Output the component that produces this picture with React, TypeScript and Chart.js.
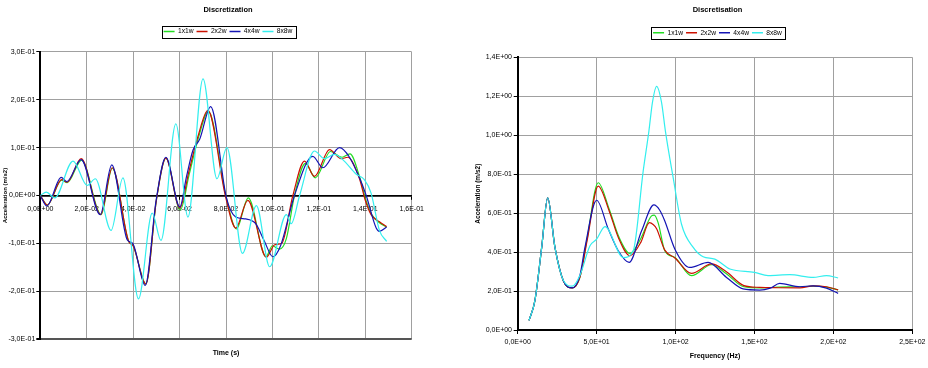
import React, { useEffect, useRef } from 'react';
import { Chart, registerables } from 'chart.js';

Chart.register(...registerables);

const FONT = '"Liberation Sans", Arial, sans-serif';

const seriesNames = ['1x1w', '2x2w', '4x4w', '8x8w'];
const seriesColors = ['#22dd22', '#cc1100', '#1414b4', '#33eeee'];

// ---- Time history (Discretization) ----
const timeTitle = 'Discretization';
const timeXLabel = 'Time (s)';
const timeYLabel = 'Acceleration (m/s2)';

const t1x1w = [0, 0.003, 0.0092, 0.0116, 0.0178, 0.0262, 0.031, 0.038, 0.04, 0.0455, 0.05, 0.0541, 0.0603, 0.0642, 0.0682, 0.0724, 0.0799, 0.0845, 0.0896, 0.0972, 0.1, 0.103, 0.106, 0.1095, 0.1142, 0.1185, 0.125, 0.13, 0.1334, 0.1378, 0.1403, 0.1428, 0.1461, 0.1492];
const a1x1w = [0, -0.02, 0.032, 0.027, 0.074, -0.04, 0.057, -0.095, -0.105, -0.185, -0.01, 0.078, -0.03, 0.045, 0.122, 0.176, 0.0, -0.07, -0.005, -0.128, -0.105, -0.112, -0.09, 0.0, 0.067, 0.037, 0.092, 0.08, 0.087, 0.035, -0.01, -0.04, -0.057, -0.066];

const t2x2w = [0, 0.003, 0.0092, 0.0116, 0.0176, 0.026, 0.031, 0.038, 0.04, 0.0455, 0.05, 0.0541, 0.0601, 0.064, 0.068, 0.0722, 0.0797, 0.0842, 0.0894, 0.0974, 0.101, 0.104, 0.1088, 0.1138, 0.1181, 0.1246, 0.1296, 0.1324, 0.1375, 0.14, 0.1425, 0.1461, 0.1492];
const a2x2w = [0, -0.02, 0.033, 0.028, 0.077, -0.04, 0.058, -0.095, -0.105, -0.185, -0.01, 0.078, -0.026, 0.05, 0.125, 0.178, 0.0, -0.068, -0.01, -0.129, -0.103, -0.1, 0.0, 0.072, 0.04, 0.096, 0.077, 0.08, 0.035, -0.01, -0.04, -0.055, -0.065];

const t4x4w = [0, 0.0028, 0.009, 0.0114, 0.0176, 0.0258, 0.0308, 0.0375, 0.0398, 0.0452, 0.0499, 0.0541, 0.0601, 0.063, 0.0658, 0.0687, 0.0734, 0.0802, 0.0842, 0.0885, 0.0928, 0.0964, 0.1002, 0.1035, 0.1095, 0.1174, 0.1217, 0.1289, 0.1332, 0.1375, 0.1404, 0.1447, 0.1461, 0.1492];
const a4x4w = [0, -0.022, 0.038, 0.029, 0.075, -0.04, 0.064, -0.093, -0.1, -0.188, -0.01, 0.08, -0.024, 0.04, 0.095, 0.118, 0.186, -0.005, -0.045, -0.049, -0.059, -0.094, -0.128, -0.105, 0.0, 0.082, 0.058, 0.1, 0.08, 0.037, 0.0, -0.068, -0.075, -0.066];

const t8x8w = [0, 0.0026, 0.0062, 0.0141, 0.0202, 0.0237, 0.0305, 0.0356, 0.0423, 0.0482, 0.052, 0.0584, 0.0636, 0.0701, 0.0761, 0.0804, 0.0871, 0.0931, 0.0988, 0.106, 0.1081, 0.1117, 0.1181, 0.1224, 0.1267, 0.1303, 0.136, 0.1396, 0.1425, 0.1461, 0.1492];
const a8x8w = [0, 0.007, -0.005, 0.072, 0.021, 0.035, -0.073, 0.037, -0.216, -0.037, -0.094, 0.15, -0.045, 0.244, 0.035, 0.1, -0.121, -0.021, -0.149, -0.04, -0.059, 0.0, 0.093, 0.077, 0.086, 0.075, 0.045, 0.033, 0.005, -0.073, -0.096];

// ---- Spectrum (Discretisation) ----
const freqTitle = 'Discretisation';
const freqXLabel = 'Frequency (Hz)';
const freqYLabel = 'Acceleration (m/s2)';

const f1x1w = [7.2, 10.9, 15.2, 19.0, 23.6, 28.9, 34.6, 39.4, 44, 51, 58, 64, 71.1, 78, 84.8, 86.5, 89, 93.2, 99.6, 110.1, 122.8, 132, 143.3, 153.3, 165, 178.8, 187.2, 195.6, 203];
const s1x1w = [0.049, 0.151, 0.424, 0.679, 0.424, 0.253, 0.216, 0.27, 0.47, 0.756, 0.62, 0.48, 0.393, 0.47, 0.586, 0.59, 0.55, 0.407, 0.372, 0.279, 0.335, 0.29, 0.222, 0.216, 0.22, 0.222, 0.225, 0.22, 0.206];

const f2x2w = [7.2, 10.9, 15.2, 19.0, 23.6, 28.9, 34.6, 39.4, 44, 51, 58, 64, 71.1, 78, 83.4, 86, 88, 93.2, 99.6, 110.1, 122.8, 132, 143.3, 153.3, 165, 178.8, 187.2, 195.6, 203];
const s2x2w = [0.049, 0.151, 0.424, 0.679, 0.424, 0.253, 0.216, 0.27, 0.46, 0.739, 0.61, 0.47, 0.381, 0.45, 0.551, 0.54, 0.52, 0.41, 0.37, 0.291, 0.339, 0.3, 0.228, 0.219, 0.217, 0.216, 0.227, 0.222, 0.206];

const f4x4w = [7.2, 10.9, 15.2, 19.0, 23.6, 28.9, 34.6, 39.4, 42.6, 50, 57.4, 63.7, 70.6, 78.5, 86.3, 90, 93.2, 99.6, 109, 120.6, 132.3, 142.8, 153.3, 160, 166, 178.8, 187.2, 195.6, 203];
const s4x4w = [0.049, 0.151, 0.424, 0.679, 0.424, 0.253, 0.216, 0.28, 0.424, 0.666, 0.518, 0.407, 0.347, 0.509, 0.642, 0.615, 0.56, 0.415, 0.321, 0.347, 0.27, 0.211, 0.205, 0.215, 0.239, 0.222, 0.227, 0.215, 0.188];

const f8x8w = [7.2, 10.9, 15.2, 19.0, 23.6, 28.9, 34.6, 39.4, 45.8, 50, 55.3, 66.9, 73.2, 79.5, 83.1, 85.4, 88, 91.1, 93.6, 98.5, 103.8, 111.2, 117.5, 124.9, 134.4, 150, 158.6, 172.4, 187.2, 195.6, 203];
const s8x8w = [0.049, 0.151, 0.424, 0.679, 0.424, 0.255, 0.225, 0.28, 0.432, 0.466, 0.531, 0.372, 0.407, 0.816, 1.02, 1.17, 1.251, 1.17, 1.02, 0.782, 0.543, 0.424, 0.376, 0.364, 0.313, 0.296, 0.279, 0.284, 0.27, 0.279, 0.267];

function sci(v: number): string {
  if (Math.abs(v) < 1e-12) return '0,0E+00';
  const s = v.toExponential(1);
  const [m, e] = s.split('e');
  const ei = parseInt(e, 10);
  return m.replace('.', ',') + 'E' + (ei < 0 ? '-' : '+') + String(Math.abs(ei)).padStart(2, '0');
}

function pts(xs: number[], ys: number[]) {
  return xs.map((x, i) => ({ x, y: ys[i] }));
}

function makeDatasets(xsList: number[][], ysList: number[][]) {
  return seriesNames.map((name, i) => ({
    label: name,
    data: pts(xsList[i], ysList[i]),
    xAxisID: 'x',
    yAxisID: 'y',
    borderColor: seriesColors[i],
    backgroundColor: seriesColors[i],
    borderWidth: 1.2,
    pointRadius: 0,
    fill: false,
    cubicInterpolationMode: 'monotone' as const,
    order: seriesNames.length - 1 - i,
  }));
}

const legendBoxPlugin = {
  id: 'legendBox',
  beforeDraw(chart: any) {
    const lg = chart.legend;
    if (!lg || !lg.legendHitBoxes || !lg.legendHitBoxes.length) return;
    const hb = lg.legendHitBoxes;
    const left = Math.min(...hb.map((h: any) => h.left)) - 2;
    const right = Math.max(...hb.map((h: any) => h.left + h.width)) + 3;
    const cy = hb[0].top + hb[0].height / 2;
    const ctx = chart.ctx;
    ctx.save();
    ctx.fillStyle = '#fff';
    ctx.strokeStyle = '#000';
    ctx.lineWidth = 1;
    const x0 = Math.round(left) + 0.5;
    const y0 = Math.round(cy - 6) + 0.5;
    const w = Math.round(right - left);
    ctx.fillRect(x0, y0, w, 12);
    ctx.strokeRect(x0, y0, w, 12);
    ctx.restore();
  },
};

function baseLegend(fontSize: number) {
  return {
    display: true,
    position: 'top' as const,
    labels: {
      usePointStyle: true,
      pointStyle: 'line',
      pointStyleWidth: 11,
      boxHeight: 6,
      padding: 3,
      color: '#000',
      font: { family: FONT, size: fontSize },
      generateLabels: (chart: any) =>
        Chart.defaults.plugins.legend.labels.generateLabels(chart).map((l: any) => ({ ...l, lineWidth: 1.6 })),
      sort: (a: any, b: any) => a.datasetIndex - b.datasetIndex,
    },
  };
}

function baseTitle(text: string, padTop: number, padBottom: number) {
  return {
    display: true,
    text,
    color: '#000',
    font: { family: FONT, size: 7.5, weight: 'bold' as const },
    padding: { top: padTop, bottom: padBottom },
  };
}

function spacer(position: 'top' | 'right', size: number) {
  return {
    type: 'linear',
    position,
    min: 0,
    max: 1,
    ticks: { display: false },
    grid: { display: false, drawTicks: false },
    border: { display: false },
    afterFit: (s: any) => {
      if (position === 'top') s.height = size;
      else s.width = size;
    },
  } as any;
}

const GRID = '#a0a0a0';

function TimeChart() {
  const ref = useRef<HTMLCanvasElement>(null);
  useEffect(() => {
    const chart = new Chart(ref.current!, {
      type: 'line',
      data: { datasets: makeDatasets([t1x1w, t2x2w, t4x4w, t8x8w], [a1x1w, a2x2w, a4x4w, a8x8w]) as any },
      plugins: [legendBoxPlugin],
      options: {
        responsive: false,
        animation: false,
        layout: { padding: 0 },
        plugins: {
          title: baseTitle(timeTitle, 5.5, 10.65) as any,
          legend: baseLegend(6.7) as any,
          tooltip: { enabled: false },
        },
        scales: {
          x: {
            type: 'linear',
            position: { y: 0 } as any,
            min: 0,
            max: 0.16,
            ticks: { stepSize: 0.02, callback: (v: any) => sci(Number(v)), color: '#000', font: { family: FONT, size: 7 }, padding: 6, maxRotation: 0, autoSkip: false },
            grid: { color: GRID, lineWidth: 1, tickColor: '#000', tickLength: 3 },
            border: { display: true, color: '#000', width: 1.8 },
            afterFit: (s: any) => { s.height = 0; },
          } as any,
          xt: {
            type: 'linear',
            position: 'bottom',
            min: 0,
            max: 0.16,
            ticks: { display: false },
            grid: { display: false, drawTicks: false },
            border: { display: false },
            title: { display: true, text: timeXLabel, color: '#000', font: { family: FONT, size: 7, weight: 'bold' }, padding: { top: 0, bottom: 11 } },
            afterFit: (s: any) => { s.height = 29; },
          } as any,
          xtop: spacer('top', 7.15),
          yr: spacer('right', 44.3),
          y: {
            type: 'linear',
            position: 'left',
            min: -0.3,
            max: 0.3,
            ticks: { stepSize: 0.1, callback: (v: any) => sci(Number(v)), color: '#000', font: { family: FONT, size: 7 }, padding: 1 },
            grid: {
              color: (c: any) => (Math.abs(c.tick.value) < 1e-9 ? '#000' : Math.abs(c.tick.value + 0.3) < 1e-9 ? '#555' : GRID),
              lineWidth: (c: any) => (Math.abs(c.tick.value + 0.3) < 1e-9 ? 2 : 1),
              tickColor: '#000',
              tickLength: 4,
            },
            border: { display: true, color: '#000', width: 2 },
            title: { display: true, text: timeYLabel, color: '#000', font: { family: FONT, size: 6, weight: 'bold' }, padding: { top: 1.4, bottom: 0 } },
            afterFit: (s: any) => { s.width = 40.3; },
          } as any,
        },
      },
    });
    return () => chart.destroy();
  }, []);
  return <canvas ref={ref} width={456} height={368} style={{ position: 'absolute', left: 0, top: 0, width: 456, height: 368 }} />;
}

function FreqChart() {
  const ref = useRef<HTMLCanvasElement>(null);
  useEffect(() => {
    const chart = new Chart(ref.current!, {
      type: 'line',
      data: { datasets: makeDatasets([f1x1w, f2x2w, f4x4w, f8x8w], [s1x1w, s2x2w, s4x4w, s8x8w]) as any },
      plugins: [legendBoxPlugin],
      options: {
        responsive: false,
        animation: false,
        layout: { padding: 0 },
        plugins: {
          title: baseTitle(freqTitle, 5, 12.35) as any,
          legend: baseLegend(6.7) as any,
          tooltip: { enabled: false },
        },
        scales: {
          x: {
            type: 'linear',
            position: 'bottom',
            min: 0,
            max: 250,
            ticks: { stepSize: 50, callback: (v: any) => sci(Number(v)), color: '#000', font: { family: FONT, size: 7 }, padding: 3.5, maxRotation: 0, autoSkip: false },
            grid: { color: GRID, lineWidth: 1, tickColor: '#000', tickLength: 4 },
            border: { display: true, color: '#000', width: 2 },
            title: { display: true, text: freqXLabel, color: '#000', font: { family: FONT, size: 7, weight: 'bold' }, padding: { top: 0, bottom: 7.8 } },
            afterFit: (s: any) => { s.height = 38; },
          } as any,
          xtop: spacer('top', 11.25),
          yr: spacer('right', 52.7),
          y: {
            type: 'linear',
            position: 'left',
            min: 0,
            max: 1.4,
            ticks: { stepSize: 0.2, callback: (v: any) => sci(Number(v)), color: '#000', font: { family: FONT, size: 7 }, padding: 1.7 },
            grid: { color: GRID, lineWidth: 1, tickColor: '#000', tickLength: 4 },
            border: { display: true, color: '#000', width: 2 },
            title: { display: true, text: freqYLabel, color: '#000', font: { family: FONT, size: 6.5, weight: 'bold' }, padding: { top: 4, bottom: 0 } },
            afterFit: (s: any) => { s.width = 47.7; },
          } as any,
        },
      },
    });
    return () => chart.destroy();
  }, []);
  return <canvas ref={ref} width={495} height={368} style={{ position: 'absolute', left: 470, top: 0, width: 495, height: 368 }} />;
}

export default function App() {
  return (
    <div style={{ position: 'fixed', left: 0, top: 0, width: 928, height: 368, overflow: 'hidden', background: '#fff' }}>
      <TimeChart />
      <FreqChart />
    </div>
  );
}
